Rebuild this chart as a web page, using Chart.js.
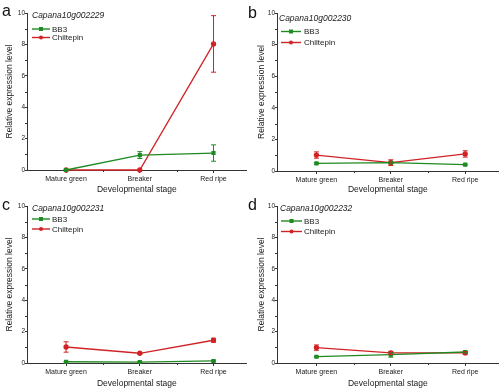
<!DOCTYPE html>
<html><head><meta charset="utf-8">
<script src="https://cdn.jsdelivr.net/npm/chart.js@4.4.1/dist/chart.umd.min.js"></script>
<style>
html,body{margin:0;padding:0;background:#fff;}
#wrap{position:relative;width:504px;height:389px;overflow:hidden;background:#fff;}
.panel{position:absolute;}
.letter{position:absolute;font-family:"Liberation Sans",Arial,sans-serif;font-size:16px;color:#111;line-height:1;}
</style></head>
<body>
<div id="wrap">
  <canvas id="ca" class="panel" style="left:0;top:0" width="252" height="195"></canvas>
  <canvas id="cb" class="panel" style="left:252px;top:0" width="252" height="195"></canvas>
  <canvas id="cc" class="panel" style="left:0;top:195px" width="252" height="194"></canvas>
  <canvas id="cd" class="panel" style="left:252px;top:195px" width="252" height="194"></canvas>
  <div class="letter" style="left:2px;top:3px">a</div>
  <div class="letter" style="left:248px;top:5px">b</div>
  <div class="letter" style="left:2px;top:197px">c</div>
  <div class="letter" style="left:248px;top:197px">d</div>
</div>
<script>
// ---- data ----
const categories = ['Mature green', 'Breaker', 'Red ripe'];
const seriesNames = ['BB3', 'Chiltepin'];
const yTicks = [0, 2, 4, 6, 8, 10];
const xLabel = 'Developmental stage';
const yLabel = 'Relative expression level';

const geneA = 'Capana10g002229';
const a_BB3 = [0, 0.95, 1.08];
const a_BB3_err = [0, 0.22, 0.52];
const a_Chil = [0, 0, 8.03];
const a_Chil_err = [0, 0, 1.8];

const geneB = 'Capana10g002230';
const b_BB3 = [0.48, 0.53, 0.40];
const b_BB3_err = [0.04, 0.05, 0.04];
const b_Chil = [1.01, 0.53, 1.08];
const b_Chil_err = [0.2, 0.18, 0.2];

const geneC = 'Capana10g002231';
const c_BB3 = [0.08, 0.06, 0.13];
const c_BB3_err = [0.02, 0.02, 0.05];
const c_Chil = [1.02, 0.62, 1.45];
const c_Chil_err = [0.33, 0.05, 0.13];

const geneD = 'Capana10g002232';
const d_BB3 = [0.40, 0.53, 0.70];
const d_BB3_err = [0.03, 0.16, 0.05];
const d_Chil = [0.98, 0.64, 0.64];
const d_Chil_err = [0.17, 0.1, 0.08];

// ---- styling ----
const FONT = '"Liberation Sans", Arial, sans-serif';
const AX = '#333';
const TXT = '#1a1a1a';
const GREEN = '#1f8a22';
const RED = '#d02326';

const errorBars = {
  id: 'errorBars',
  afterDatasetsDraw(chart) {
    const ctx = chart.ctx, ys = chart.scales.y;
    chart.data.datasets.forEach((ds, di) => {
      const meta = chart.getDatasetMeta(di);
      if (!ds.errors) return;
      ctx.save();
      ctx.strokeStyle = ds.borderColor;
      ctx.lineWidth = 1;
      meta.data.forEach((pt, i) => {
        const e = ds.errors[i];
        if (!e) return;
        const v = ds.data[i].y;
        const yt = ys.getPixelForValue(v + e), yb = ys.getPixelForValue(v - e);
        const x = pt.x;
        ctx.beginPath();
        ctx.moveTo(x, yt); ctx.lineTo(x, yb);
        ctx.moveTo(x - 2.5, yt); ctx.lineTo(x + 2.5, yt);
        ctx.moveTo(x - 2.5, yb); ctx.lineTo(x + 2.5, yb);
        ctx.stroke();
      });
      ctx.restore();
    });
  }
};

const minorTicks = {
  id: 'minorTicks',
  afterDraw(chart) {
    const ctx = chart.ctx, xs = chart.scales.x, ys = chart.scales.y, ca = chart.chartArea;
    ctx.save();
    ctx.strokeStyle = AX; ctx.lineWidth = 1;
    ctx.beginPath();
    [1, 3, 5, 7, 9].forEach(v => {
      const y = Math.round(ys.getPixelForValue(v)) + 0.5;
      ctx.moveTo(ca.left - 2, y); ctx.lineTo(ca.left, y);
    });
    [0.5, 1.5].forEach(v => {
      const x = Math.round(xs.getPixelForValue(v)) + 0.5;
      ctx.moveTo(x, ca.bottom); ctx.lineTo(x, ca.bottom + 2);
    });
    ctx.stroke();
    ctx.restore();
  }
};

const panelLegend = {
  id: 'panelLegend',
  afterDraw(chart) {
    const o = chart.options.plugins.panelLegend;
    const ctx = chart.ctx, ca = chart.chartArea;
    ctx.save();
    ctx.fillStyle = TXT;
    ctx.textBaseline = 'middle';
    ctx.font = 'italic 8.5px ' + FONT;
    ctx.fillText(o.gene, ca.left + o.gx, ca.top + o.gy);
    ctx.font = '8px ' + FONT;
    chart.data.datasets.forEach((ds, i) => {
      const y = ca.top + o.ly[i];
      const x0 = ca.left + o.lx0, x1 = ca.left + o.lx1;
      ctx.strokeStyle = ds.borderColor; ctx.lineWidth = 1.4;
      ctx.beginPath(); ctx.moveTo(x0, y); ctx.lineTo(x1, y); ctx.stroke();
      ctx.fillStyle = ds.borderColor;
      const xm = (x0 + x1) / 2;
      if (ds.pointStyle === 'rect') { ctx.fillRect(xm - 2, y - 2, 4, 4); }
      else { ctx.beginPath(); ctx.arc(xm, y, 2, 0, Math.PI * 2); ctx.fill(); }
      ctx.fillStyle = TXT;
      ctx.fillText(ds.label, ca.left + o.tx, y + 0.5);
    });
    ctx.restore();
  }
};

function pts(arr) { return arr.map((v, i) => ({ x: i, y: v })); }

function makeChart(id, gene, bb3, bb3e, chil, chile, lay) {
  return new Chart(document.getElementById(id), {
    type: 'line',
    data: {
      datasets: [
        { label: seriesNames[0], data: pts(bb3), errors: bb3e, borderColor: GREEN, backgroundColor: GREEN,
          pointStyle: 'rect', pointRadius: 2, borderWidth: 1.3, clip: false, tension: 0 },
        { label: seriesNames[1], data: pts(chil), errors: chile, borderColor: RED, backgroundColor: RED,
          pointStyle: 'circle', pointRadius: 2, borderWidth: 1.3, clip: false, tension: 0 }
      ]
    },
    plugins: [errorBars, minorTicks, panelLegend],
    options: {
      responsive: false, animation: false, devicePixelRatio: 1,
      layout: { padding: { left: 0, top: lay.top, right: lay.right, bottom: 0 } },
      plugins: {
        legend: { display: false }, tooltip: { enabled: false },
        panelLegend: Object.assign({ gene: gene }, lay.leg)
      },
      scales: {
        x: {
          type: 'linear', min: -0.53, max: 2.45,
          afterBuildTicks: s => { s.ticks = categories.map((c, i) => ({ value: i })); },
          afterFit: s => { s.height = lay.xh; },
          ticks: { callback: v => categories[v], font: { family: FONT, size: 7 }, color: TXT, padding: 2, maxRotation: 0, autoSkip: false },
          grid: { display: true, drawOnChartArea: false, drawTicks: true, tickLength: 3, color: AX },
          border: { display: true, color: AX, width: 1 },
          title: { display: true, text: xLabel, font: { family: FONT, size: 8.5 }, color: TXT, padding: { top: 2, bottom: 0 } }
        },
        y: {
          min: 0, max: 10,
          afterBuildTicks: s => { s.ticks = yTicks.map(v => ({ value: v })); },
          afterFit: s => { s.width = lay.yw; },
          ticks: { font: { family: FONT, size: 6.5 }, color: TXT, padding: 0 },
          grid: { display: true, drawOnChartArea: false, drawTicks: true, tickLength: 2, color: AX },
          border: { display: true, color: AX, width: 1 },
          title: { display: true, text: yLabel, font: { family: FONT, size: 8.5 }, color: TXT, padding: { top: 5, bottom: 2 } }
        }
      }
    }
  });
}

makeChart('ca', geneA, a_BB3, a_BB3_err, a_Chil, a_Chil_err,
  { top: 13, right: 4, xh: 25, yw: 27, leg: { gx: 5, gy: 3, lx0: 5, lx1: 23, tx: 25, ly: [16, 24.5] } });
makeChart('cb', geneB, b_BB3, b_BB3_err, b_Chil, b_Chil_err,
  { top: 13, right: 2, xh: 24, yw: 25, leg: { gx: 2, gy: 6, lx0: 4, lx1: 24, tx: 27, ly: [18.5, 29.5] } });
makeChart('cc', geneC, c_BB3, c_BB3_err, c_Chil, c_Chil_err,
  { top: 11, right: 4, xh: 26, yw: 27, leg: { gx: 5, gy: 2.5, lx0: 5, lx1: 23, tx: 25, ly: [13, 23] } });
makeChart('cd', geneD, d_BB3, d_BB3_err, d_Chil, d_Chil_err,
  { top: 11, right: 2, xh: 26, yw: 25, leg: { gx: 3, gy: 2.5, lx0: 4, lx1: 25, tx: 27, ly: [15, 25.5] } });
</script>
</body></html>
